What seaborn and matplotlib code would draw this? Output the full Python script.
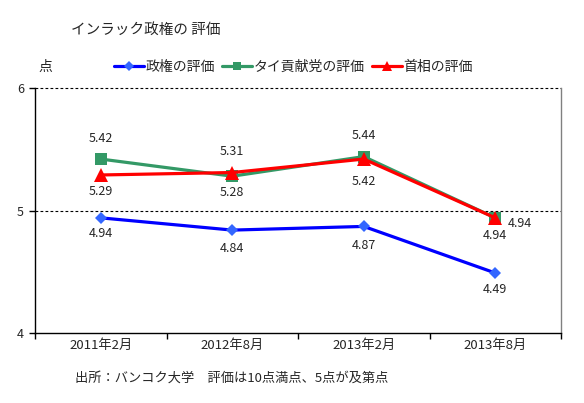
import matplotlib
matplotlib.use("Agg")
import matplotlib.pyplot as plt
import seaborn as sns
import pandas as pd
from matplotlib.ticker import FixedLocator, NullFormatter

sns.set_style("white")
plt.rcParams['font.family'] = ['Noto Sans CJK JP', 'DejaVu Sans']

categories = ["2011年2月", "2012年8月", "2013年2月", "2013年8月"]
seiken = [4.94, 4.84, 4.87, 4.49]
taikokuto = [5.42, 5.28, 5.44, 4.94]
shusho = [5.29, 5.31, 5.42, 4.94]
series_names = ["政権の評価", "タイ貢献党の評価", "首相の評価"]

rows = []
for name, vals in zip(series_names, [seiken, taikokuto, shusho]):
    for i, (c, v) in enumerate(zip(categories, vals)):
        rows.append({"pos": i, "period": c, "value": v, "series": name})
df = pd.DataFrame(rows)

W, H = 584, 403
fig = plt.figure(figsize=(5.84, 4.03), dpi=100)
ax = fig.add_axes([35/W, 1-333/H, 526/W, 245/H])

styles = {
    "政権の評価": dict(color="#0000FF", marker="D", mfc="#3366FF", mec="#3366FF", ms=6.5),
    "タイ貢献党の評価": dict(color="#339966", marker="s", mfc="#339966", mec="#339966", ms=8.5),
    "首相の評価": dict(color="#FF0000", marker="^", mfc="#FF0000", mec="#FF0000", ms=10),
}
for name in series_names:
    st = styles[name]
    sub = df[df.series == name]
    sns.lineplot(data=sub, x="pos", y="value", ax=ax, color=st["color"], lw=2.3,
                 marker=st["marker"], markersize=st["ms"], markerfacecolor=st["mfc"],
                 markeredgecolor=st["mec"], markeredgewidth=0, label=name, legend=False)

ax.set_xlim(-0.5, 3.5)
ax.set_ylim(4, 6)
ax.set_xlabel("")
ax.set_ylabel("")
ax.yaxis.set_major_locator(FixedLocator([4, 5, 6]))
ax.set_yticklabels(["4", "5", "6"], fontsize=9)
ax.xaxis.set_major_locator(FixedLocator([-0.5, 0.5, 1.5, 2.5, 3.5]))
ax.xaxis.set_major_formatter(NullFormatter())
ax.xaxis.set_minor_locator(FixedLocator([0, 1, 2, 3]))
ax.set_xticklabels(categories, minor=True, fontsize=9.5)
ax.tick_params(axis='x', which='minor', length=0, pad=4)
ax.tick_params(axis='x', which='major', length=4, direction='out', color='black', width=1, bottom=True)
ax.tick_params(axis='y', length=4, direction='out', color='black', width=1, left=True, pad=4)

for s in ["left", "bottom"]:
    ax.spines[s].set_color("black")
    ax.spines[s].set_linewidth(1)
ax.spines["right"].set_color("#808080")
ax.spines["right"].set_linewidth(1)
ax.spines["top"].set_visible(False)
ax.axhline(5, color="black", ls=(0, (2.5, 2)), lw=0.8, zorder=0)
ax.axhline(6, color="black", ls=(0, (2.5, 2)), lw=0.8, zorder=0, clip_on=False)

# data labels (offsets in points)
lab_fs = 9
def lab(i, v, dx, dy):
    ax.annotate(f"{v:.2f}", (i, v), xytext=(dx, dy), textcoords="offset points",
                ha="center", va="center", fontsize=lab_fs)

# green
lab(0, taikokuto[0], 0, 15)
lab(1, taikokuto[1], 0, -12)
lab(2, taikokuto[2], 0, 15)
lab(3, taikokuto[3], 18, -4)
# red
lab(0, shusho[0], 0, -12)
lab(1, shusho[1], 0, 15)
lab(2, shusho[2], 0, -16)
lab(3, shusho[3], 0, -13)
# blue
lab(0, seiken[0], 0, -11)
lab(1, seiken[1], 0, -13)
lab(2, seiken[2], 0, -14)
lab(3, seiken[3], 0, -12)

fig.text(71/W, 1-30/H, "インラック政権の 評価", fontsize=10.5, ha="left", va="center")
fig.text(38/W, 1-67/H, "点", fontsize=10, ha="left", va="center")
fig.text(75/W, 1-378/H, "出所：バンコク大学　評価は10点満点、5点が及第点", fontsize=9.5,
         ha="left", va="center")

handles, labels = ax.get_legend_handles_labels()
leg = fig.legend(handles, labels, loc="center left", bbox_to_anchor=(114/W, 1-67/H),
                 ncol=3, frameon=False, fontsize=10, handlelength=2.15, handletextpad=0.1,
                 columnspacing=0.55, borderaxespad=0, borderpad=0, markerscale=0.75)

fig.savefig("out.png", dpi=100)
